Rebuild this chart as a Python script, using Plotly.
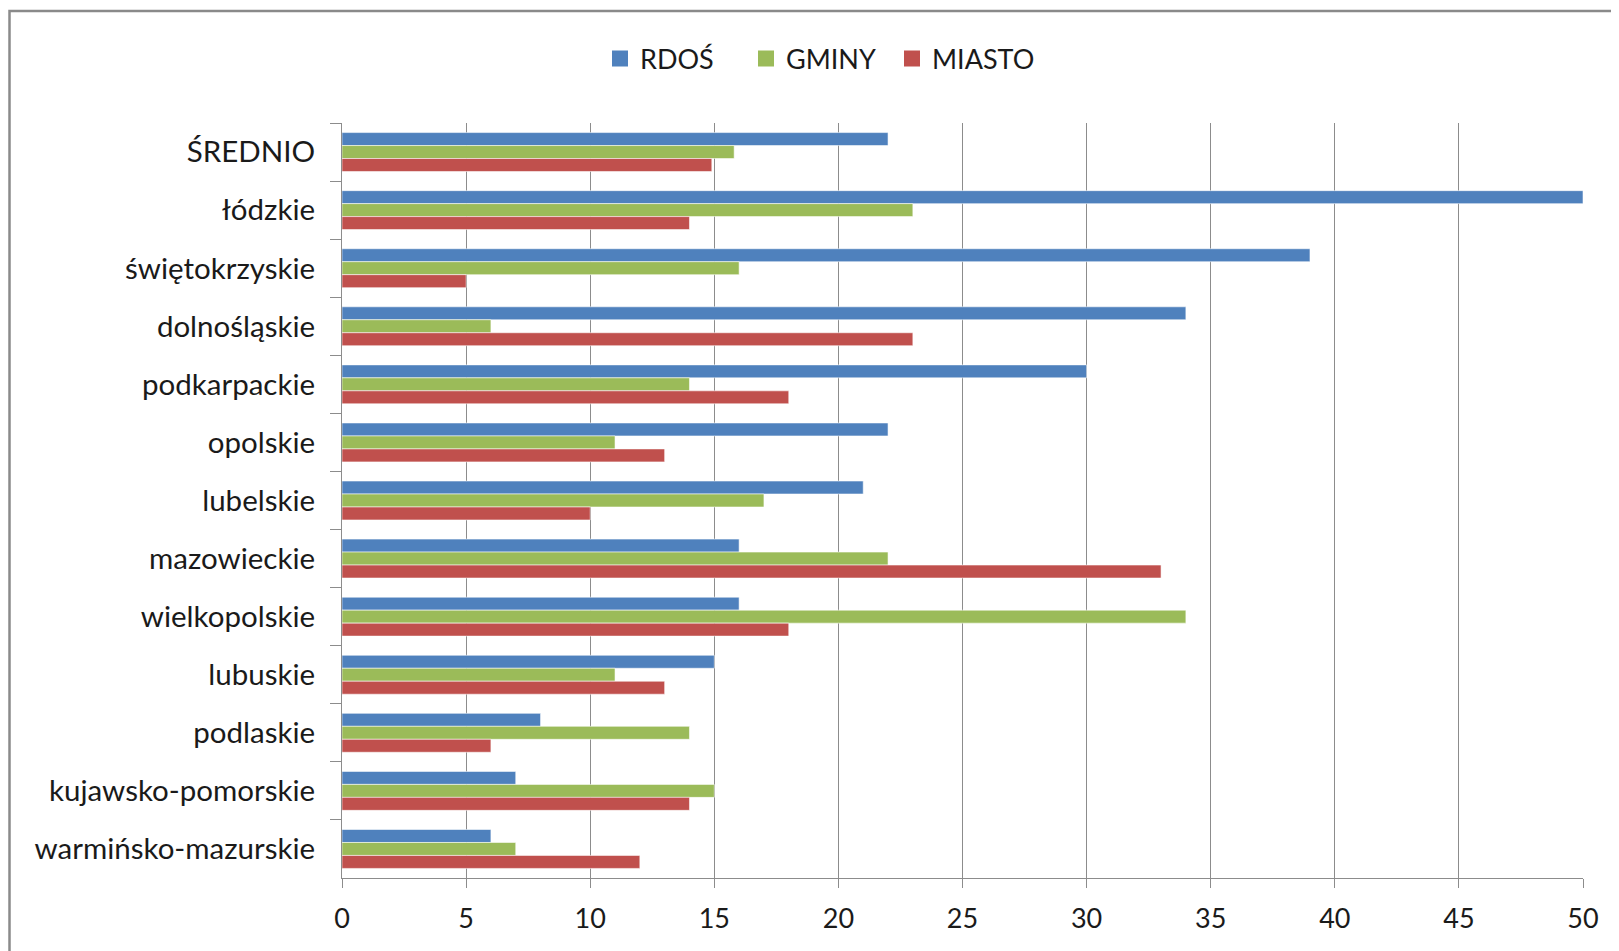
import plotly.graph_objects as go

categories = ["ŚREDNIO", "łódzkie", "świętokrzyskie", "dolnośląskie", "podkarpackie",
              "opolskie", "lubelskie", "mazowieckie", "wielkopolskie", "lubuskie",
              "podlaskie", "kujawsko-pomorskie", "warmińsko-mazurskie"]
rdos = [22, 50, 39, 34, 30, 22, 21, 16, 16, 15, 8, 7, 6]
gminy = [15.8, 23, 16, 6, 14, 11, 17, 22, 34, 11, 14, 15, 7]
miasto = [14.9, 14, 5, 23, 18, 13, 10, 33, 18, 13, 6, 14, 12]
x_ticks = [0, 5, 10, 15, 20, 25, 30, 35, 40, 45, 50]

series = [("RDOŚ", rdos, "#4F81BD"), ("GMINY", gminy, "#9BBB59"), ("MIASTO", miasto, "#C0504D")]

fig = go.Figure()
for name, vals, col in series:
    fig.add_trace(go.Bar(
        y=categories, x=vals, name=name, orientation="h", showlegend=False,
        marker=dict(color=col, line=dict(color="rgba(255,255,255,0.55)", width=1)),
    ))
# legend entries with larger square swatches
for name, vals, col in series:
    fig.add_trace(go.Scatter(
        x=[None], y=[None], name=name, mode="markers",
        marker=dict(symbol="square", size=16, color=col),
    ))

OFF = 8  # default page body margin
W, H = 1619 - OFF, 951 - OFF
L = 342 - OFF
T = 123 - OFF
R = W - (1583 - OFF)
B = H - (878 - OFF)
pw, ph = W - L - R, H - T - B

fig.update_layout(
    width=W, height=H,
    margin=dict(l=L, r=R, t=T, b=B, pad=0),
    paper_bgcolor="white", plot_bgcolor="white",
    barmode="group", bargap=0.33, bargroupgap=0,
    font=dict(family="Lato, Carlito, sans-serif", size=27, color="#1a1a1a"),
    legend=dict(orientation="h", x=(819 - 342) / pw, xanchor="center",
                y=1 + (123 - 59) / ph, yanchor="middle",
                font=dict(size=27), itemwidth=30, traceorder="normal",
                entrywidth=101, entrywidthmode="pixels"),
    shapes=[dict(type="rect", xref="paper", yref="paper",
                 x0=(9.5 - 342) / pw, x1=(1650 - 342) / pw,
                 y0=-(80 + 30) / ph, y1=1 + (123 - 11) / ph,
                 line=dict(color="#8a8a8a", width=2.5), fillcolor="rgba(0,0,0,0)", layer="below")],
)
fig.update_xaxes(range=[0, 50], tickvals=x_ticks, ticktext=[str(v) for v in x_ticks],
                 showgrid=True, gridcolor="#8c8c8c", gridwidth=1,
                 showline=True, linecolor="#8c8c8c", linewidth=1,
                 ticks="outside", ticklen=9, tickcolor="#8c8c8c",
                 ticklabelstandoff=8, tickfont=dict(size=27), zeroline=False)
fig.update_yaxes(autorange="reversed", type="category", categoryorder="array",
                 categoryarray=categories,
                 showline=True, linecolor="#8c8c8c", linewidth=1,
                 ticks="outside", ticklen=11, tickcolor="#8c8c8c", tickson="boundaries",
                 ticklabelstandoff=20, tickfont=dict(size=29.5), showgrid=False)

fig.write_html("out.html")
